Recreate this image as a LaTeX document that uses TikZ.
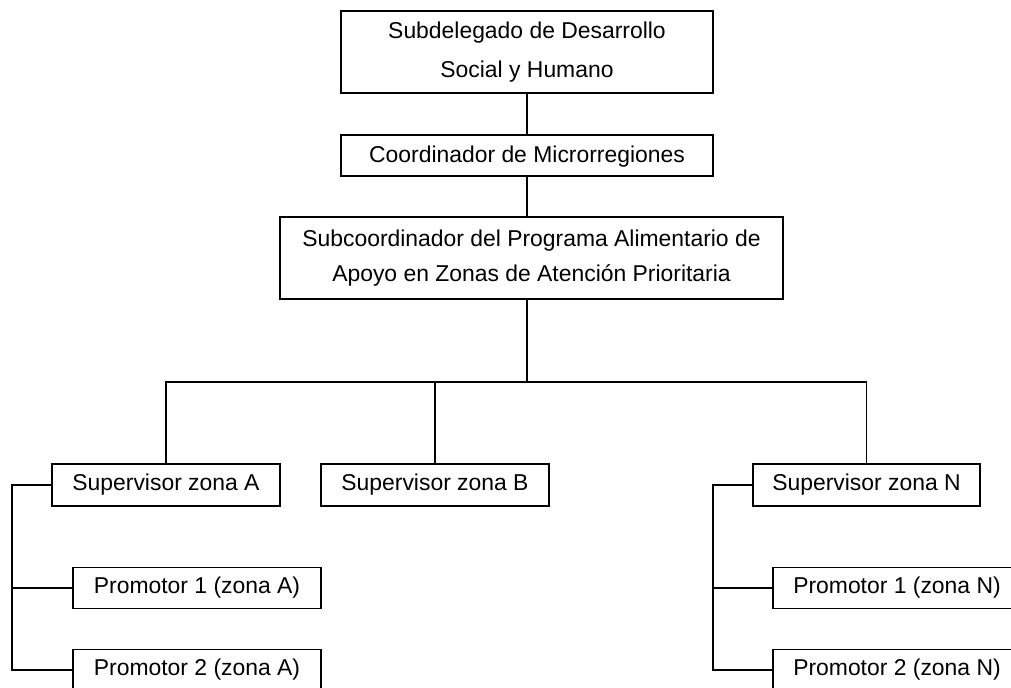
\documentclass[tikz,border=0pt]{standalone}
\usepackage{fontspec}
\setmainfont{Liberation Sans}
\begin{document}
\begin{tikzpicture}[x=0.5pt,y=-0.5pt,
  line width=0.7pt,
  orgbox/.style={draw, inner sep=0pt, align=center,
    font=\fontsize{11.45pt}{19.5pt}\selectfont},
  wide/.style={orgbox, minimum width=186pt, minimum height=41pt},
  thin/.style={orgbox, minimum width=186pt, minimum height=20.5pt},
  sup/.style={orgbox, minimum width=114pt, minimum height=21pt},
  prom/.style={orgbox, minimum width=124pt, minimum height=20.5pt},
  link/.style={draw, line width=0.7pt}]
\useasboundingbox (0,0) rectangle (1011,688);

% top of the hierarchy
\node[wide] (sub) at (527,52) {Subdelegado de Desarrollo\\Social y Humano};

% coordinator box; its label is cut just above the lower border
\node[thin] (coord) at (527,155.5) {};
\begin{scope}
  \clip (341,135) rectangle (713,169);
  \node[inner sep=0pt, font=\fontsize{11.45pt}{19.5pt}\selectfont]
    (coordtext) at (527,157) {Coordinador de Microrregiones};
\end{scope}

\node[wide, minimum width=251.5pt, font=\fontsize{11.45pt}{17.5pt}\selectfont]
  (subc) at (531.5,258)
  {Subcoordinador del Programa Alimentario de\\Apoyo en Zonas de Atención Prioritaria};

% supervisors
\node[sup] (supA) at (166,485) {Supervisor zona A};
\node[sup] (supB) at (435,485) {Supervisor zona B};
\node[sup, minimum width=113.5pt] (supN) at (866.5,485) {Supervisor zona N};

% promoters
\node[prom] (pA1) at (197,588) {Promotor 1 (zona A)};
\node[prom] (pA2) at (197,670) {Promotor 2 (zona A)};
\node[prom] (pN1) at (897,588) {Promotor 1 (zona N)};
\node[prom] (pN2) at (897,670) {Promotor 2 (zona N)};

% connectors
\coordinate (bus) at (527,382);
\coordinate (brA) at (12,485);
\coordinate (brN) at (713,485);

\path[link] (sub.south) -- (coord.north);
\path[link] (coord.south) -- (coord.south |- subc.north);
\path[link] (coord.south |- subc.south) -- (bus);
\path[link] (supA.north) |- (bus) -| (supN.north);
\path[link] (supB.north) -- (supB.north |- bus);

\path[link] (supA.west) -- (brA) |- (pA2.west);
\path[link] (pA1.west) -- (pA1.west -| brA);
\path[link] (supN.west) -- (brN) |- (pN2.west);
\path[link] (pN1.west) -- (pN1.west -| brN);
\end{tikzpicture}
\end{document}
